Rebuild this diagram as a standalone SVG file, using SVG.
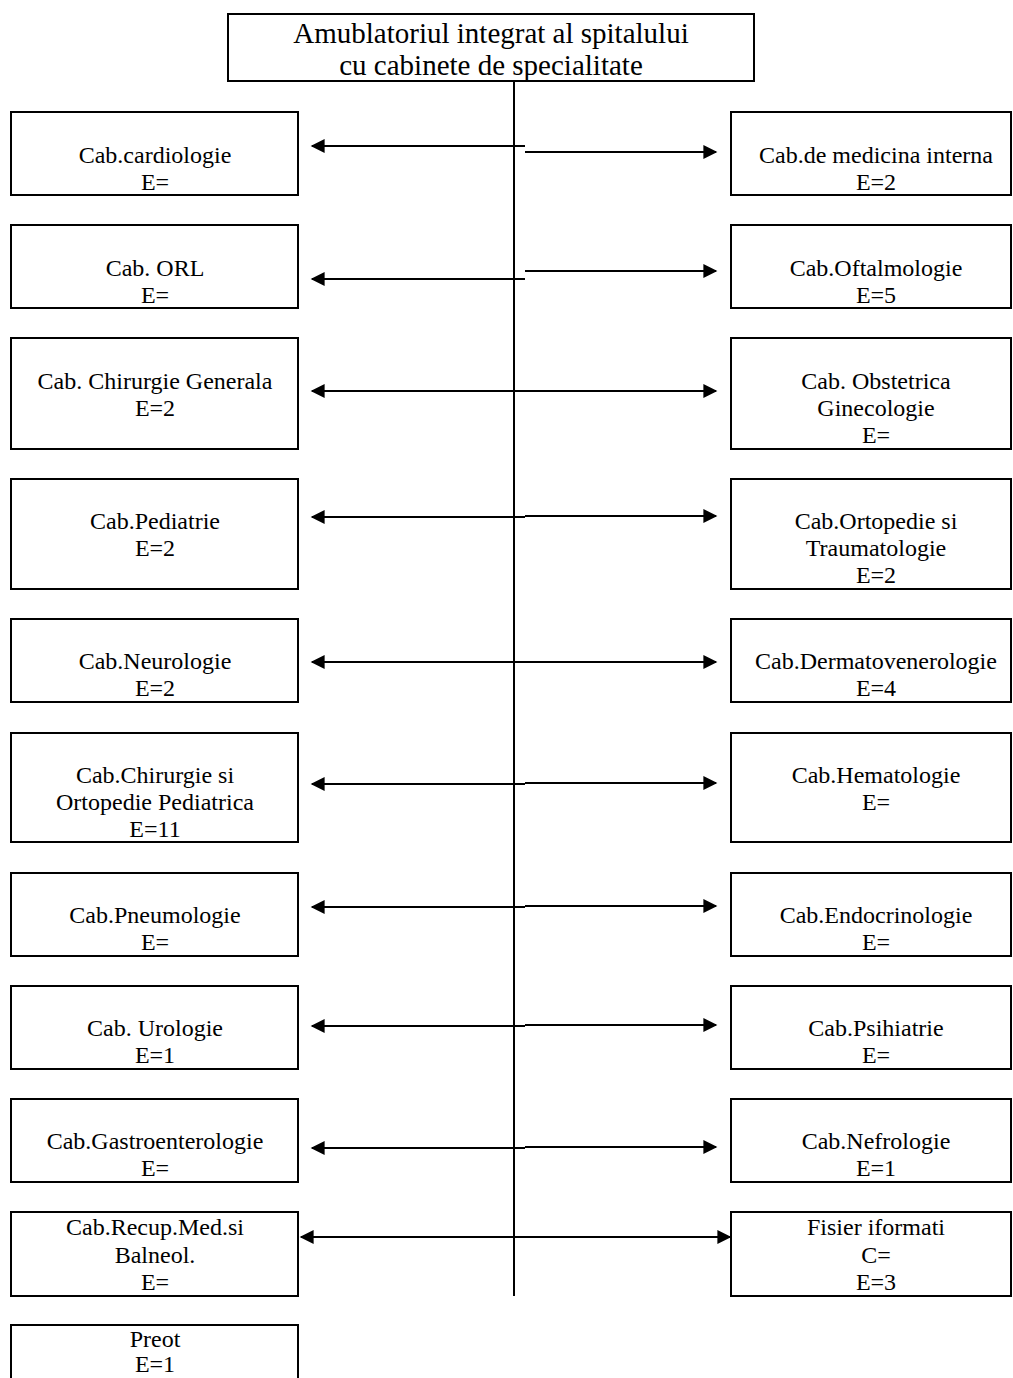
<svg xmlns="http://www.w3.org/2000/svg" width="1013" height="1378" viewBox="0 0 1013 1378">
<style>
.box{fill:#fff;stroke:#000;stroke-width:2}
.t{font-family:"Liberation Serif","Times New Roman",serif;font-size:24px;fill:#000;text-anchor:middle}
.tt{font-family:"Liberation Serif","Times New Roman",serif;font-size:29px;fill:#000;text-anchor:middle}
.c{stroke:#000;stroke-width:2;fill:none}
</style>
<defs>
<marker id="ah" viewBox="0 0 10 10" refX="9" refY="5" markerWidth="8" markerHeight="7" markerUnits="strokeWidth" orient="auto">
<path d="M0,0 L10,5 L0,10 z" fill="#000"/>
</marker>
</defs>
<rect width="1013" height="1378" fill="#fff"/>
<g id="root"><rect class="box" x="228" y="14" width="526" height="67"/>
<text class="tt" x="491" y="43">Amublatoriul integrat al spitalului</text>
<text class="tt" x="491" y="75">cu cabinete de specialitate</text></g>

<g id="connectors">
<line class="c" x1="514" y1="81" x2="514" y2="1296" stroke-width="1.5"/>
<line class="c" x1="525" y1="146" x2="312" y2="146" marker-end="url(#ah)"/>
<line class="c" x1="525" y1="152" x2="716" y2="152" marker-end="url(#ah)"/>
<line class="c" x1="525" y1="279" x2="312" y2="279" marker-end="url(#ah)"/>
<line class="c" x1="525" y1="271" x2="716" y2="271" marker-end="url(#ah)"/>
<line class="c" x1="525" y1="391" x2="312" y2="391" marker-end="url(#ah)"/>
<line class="c" x1="525" y1="391" x2="716" y2="391" marker-end="url(#ah)"/>
<line class="c" x1="525" y1="517" x2="312" y2="517" marker-end="url(#ah)"/>
<line class="c" x1="525" y1="516" x2="716" y2="516" marker-end="url(#ah)"/>
<line class="c" x1="525" y1="662" x2="312" y2="662" marker-end="url(#ah)"/>
<line class="c" x1="525" y1="662" x2="716" y2="662" marker-end="url(#ah)"/>
<line class="c" x1="525" y1="784" x2="312" y2="784" marker-end="url(#ah)"/>
<line class="c" x1="525" y1="783" x2="716" y2="783" marker-end="url(#ah)"/>
<line class="c" x1="525" y1="907" x2="312" y2="907" marker-end="url(#ah)"/>
<line class="c" x1="525" y1="906" x2="716" y2="906" marker-end="url(#ah)"/>
<line class="c" x1="525" y1="1026" x2="312" y2="1026" marker-end="url(#ah)"/>
<line class="c" x1="525" y1="1025" x2="716" y2="1025" marker-end="url(#ah)"/>
<line class="c" x1="525" y1="1148" x2="312" y2="1148" marker-end="url(#ah)"/>
<line class="c" x1="525" y1="1147" x2="716" y2="1147" marker-end="url(#ah)"/>
<line class="c" x1="514" y1="1237" x2="301" y2="1237" marker-end="url(#ah)"/>
<line class="c" x1="514" y1="1237" x2="730" y2="1237" marker-end="url(#ah)"/>
</g>

<g id="cardiologie"><rect class="box" x="11" y="112" width="287" height="83"/>
<text class="t" x="155" y="163">Cab.cardiologie</text><text class="t" x="155" y="190">E=</text></g>
<g id="medicina-interna"><rect class="box" x="731" y="112" width="280" height="83"/>
<text class="t" x="876" y="163">Cab.de medicina interna</text><text class="t" x="876" y="190">E=2</text></g>

<g id="orl"><rect class="box" x="11" y="225" width="287" height="83"/>
<text class="t" x="155" y="276">Cab. ORL</text><text class="t" x="155" y="303">E=</text></g>
<g id="oftalmologie"><rect class="box" x="731" y="225" width="280" height="83"/>
<text class="t" x="876" y="276">Cab.Oftalmologie</text><text class="t" x="876" y="303">E=5</text></g>

<g id="chirurgie-generala"><rect class="box" x="11" y="338" width="287" height="111"/>
<text class="t" x="155" y="389">Cab. Chirurgie Generala</text><text class="t" x="155" y="416">E=2</text></g>
<g id="obstetrica"><rect class="box" x="731" y="338" width="280" height="111"/>
<text class="t" x="876" y="389">Cab. Obstetrica</text><text class="t" x="876" y="416">Ginecologie</text><text class="t" x="876" y="443">E=</text></g>

<g id="pediatrie"><rect class="box" x="11" y="479" width="287" height="110"/>
<text class="t" x="155" y="529">Cab.Pediatrie</text><text class="t" x="155" y="556">E=2</text></g>
<g id="ortopedie"><rect class="box" x="731" y="479" width="280" height="110"/>
<text class="t" x="876" y="529">Cab.Ortopedie si</text><text class="t" x="876" y="556">Traumatologie</text><text class="t" x="876" y="583">E=2</text></g>

<g id="neurologie"><rect class="box" x="11" y="619" width="287" height="83"/>
<text class="t" x="155" y="669">Cab.Neurologie</text><text class="t" x="155" y="696">E=2</text></g>
<g id="dermatovenerologie"><rect class="box" x="731" y="619" width="280" height="83"/>
<text class="t" x="876" y="669">Cab.Dermatovenerologie</text><text class="t" x="876" y="696">E=4</text></g>

<g id="chirurgie-pediatrica"><rect class="box" x="11" y="733" width="287" height="109"/>
<text class="t" x="155" y="783">Cab.Chirurgie si</text><text class="t" x="155" y="810">Ortopedie Pediatrica</text><text class="t" x="155" y="837">E=11</text></g>
<g id="hematologie"><rect class="box" x="731" y="733" width="280" height="109"/>
<text class="t" x="876" y="783">Cab.Hematologie</text><text class="t" x="876" y="810">E=</text></g>

<g id="pneumologie"><rect class="box" x="11" y="873" width="287" height="83"/>
<text class="t" x="155" y="923">Cab.Pneumologie</text><text class="t" x="155" y="950">E=</text></g>
<g id="endocrinologie"><rect class="box" x="731" y="873" width="280" height="83"/>
<text class="t" x="876" y="923">Cab.Endocrinologie</text><text class="t" x="876" y="950">E=</text></g>

<g id="urologie"><rect class="box" x="11" y="986" width="287" height="83"/>
<text class="t" x="155" y="1036">Cab. Urologie</text><text class="t" x="155" y="1063">E=1</text></g>
<g id="psihiatrie"><rect class="box" x="731" y="986" width="280" height="83"/>
<text class="t" x="876" y="1036">Cab.Psihiatrie</text><text class="t" x="876" y="1063">E=</text></g>

<g id="gastroenterologie"><rect class="box" x="11" y="1099" width="287" height="83"/>
<text class="t" x="155" y="1149">Cab.Gastroenterologie</text><text class="t" x="155" y="1176">E=</text></g>
<g id="nefrologie"><rect class="box" x="731" y="1099" width="280" height="83"/>
<text class="t" x="876" y="1149">Cab.Nefrologie</text><text class="t" x="876" y="1176">E=1</text></g>

<g id="recuperare"><rect class="box" x="11" y="1212" width="287" height="84"/>
<text class="t" x="155" y="1235">Cab.Recup.Med.si</text><text class="t" x="155" y="1263">Balneol.</text><text class="t" x="155" y="1290">E=</text></g>
<g id="fisier"><rect class="box" x="731" y="1212" width="280" height="84"/>
<text class="t" x="876" y="1235">Fisier iformati</text><text class="t" x="876" y="1263">C=</text><text class="t" x="876" y="1290">E=3</text></g>

<g id="preot"><rect class="box" x="11" y="1325" width="287" height="80"/>
<text class="t" x="155" y="1347">Preot</text><text class="t" x="155" y="1372">E=1</text></g>
</svg>
